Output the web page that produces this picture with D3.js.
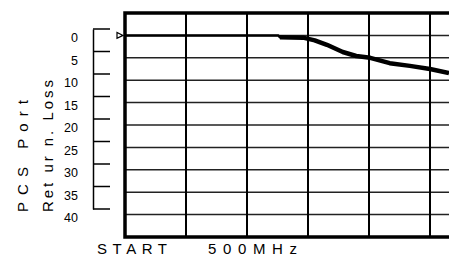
<!DOCTYPE html>
<html>
<head>
<meta charset="utf-8">
<script src="https://cdn.jsdelivr.net/npm/d3@7"></script>
<style>
  body { margin: 0; background: #fff; }
  text { font-family: "Liberation Sans", Arial, sans-serif; fill: #000; }
</style>
</head>
<body>
<svg id="chart"></svg>
<script>
// trace: x in screen divisions from START, y in dB of return loss
const traceDiv = [0, 2.51, 2.54, 2.92, 3.11, 3.31, 3.57, 3.79, 4.02, 4.34, 4.67, 5.0, 5.31];
const traceDb  = [0, 0, 0.4, 0.5, 1.1, 2.1, 3.7, 4.6, 5.0, 6.2, 6.8, 7.5, 8.4];
const lossTicks = [0, 5, 10, 15, 20, 25, 30, 35, 40];
const gridX = [0, 1, 2, 3, 4, 5, 6, 7, 8, 9, 10];
const gridY = [-5, 0, 5, 10, 15, 20, 25, 30, 35, 40, 45];
const yTitle = ["PCS  Port", "Ret ur n. Loss"];
const startLabel = "START";
const freqLabel = "500MHz";

const width = 449, height = 260;
const svg = d3.select("#chart").attr("width", width).attr("height", height);

const x = d3.scaleLinear().domain([0, 10]).range([125, 735]);
const y = d3.scaleLinear().domain([-5, 45]).range([13, 237]);
// left scale bracket, not lined up with the grid
const yL = d3.scaleLinear().domain([0, 40]).range([29, 209]);

// grid
svg.append("g").selectAll("line")
    .data(gridY.slice(1, -1))
    .enter().append("line")
    .attr("x1", x(0)).attr("x2", width)
    .attr("y1", d => y(d)).attr("y2", d => y(d))
    .attr("stroke", "#222").attr("stroke-width", 1.5);

svg.append("g").selectAll("line")
    .data(gridX.slice(1))
    .enter().append("line")
    .attr("x1", d => x(d)).attr("x2", d => x(d))
    .attr("y1", y(-5)).attr("y2", y(45))
    .attr("stroke", "#000").attr("stroke-width", 2);

// frame (top, left, bottom)
svg.append("path")
    .attr("d", "M" + width + "," + y(-5) + "H" + x(0) + "V" + y(45) + "H" + width)
    .attr("fill", "none").attr("stroke", "#000").attr("stroke-width", 3.5);

// left bracket axis
const axisL = d3.axisLeft(yL).tickValues(lossTicks).tickSize(0).tickFormat("");
svg.append("g").attr("transform", "translate(93,0)").call(axisL)
    .select(".domain").attr("stroke", "#000").attr("stroke-width", 1.5);
svg.append("g").selectAll("line")
    .data(lossTicks)
    .enter().append("line")
    .attr("x1", 93).attr("x2", 110)
    .attr("y1", d => yL(d)).attr("y2", d => yL(d))
    .attr("stroke", "#000").attr("stroke-width", 1.5);
svg.append("g").selectAll("text")
    .data(lossTicks)
    .enter().append("text")
    .attr("x", 78)
    .attr("y", d => yL(d) + 13)
    .attr("text-anchor", "end")
    .style("font-size", "12.5px")
    .text(d => d);

// axis title, rotated
yTitle.forEach((t, i) => {
    svg.append("text")
        .attr("transform", "translate(" + (27.5 + i * 25) + ",212) rotate(-90)")
        .attr("textLength", i === 0 ? 112 : 132)
        .attr("lengthAdjust", "spacing")
        .style("font-size", "15px")
        .text(t);
});

// bottom labels
svg.append("text").attr("x", 97).attr("y", 253.5)
    .attr("textLength", 70).attr("lengthAdjust", "spacing")
    .style("font-size", "15px").text(startLabel);
svg.append("text").attr("x", 208).attr("y", 253.5)
    .attr("textLength", 89).attr("lengthAdjust", "spacing")
    .style("font-size", "15px").text(freqLabel);

// trace
const trace = traceDiv.map((d, i) => ({ div: d, db: traceDb[i] }));
const line = d3.line().x(d => x(d.div)).y(d => y(d.db));
svg.append("path")
    .datum(trace)
    .attr("d", line)
    .attr("fill", "none").attr("stroke", "#000").attr("stroke-width", 2.5);
svg.append("path")
    .datum(trace.filter(d => d.div >= 2.54))
    .attr("d", line)
    .attr("fill", "none").attr("stroke", "#000").attr("stroke-width", 4.5)
    .attr("stroke-linejoin", "round");

// start marker
svg.append("path")
    .attr("d", d3.line()([[117, y(0) - 3], [117, y(0) + 3], [123, y(0)]]) + "Z")
    .attr("fill", "#fff").attr("stroke", "#000").attr("stroke-width", 1.2);
</script>
</body>
</html>
